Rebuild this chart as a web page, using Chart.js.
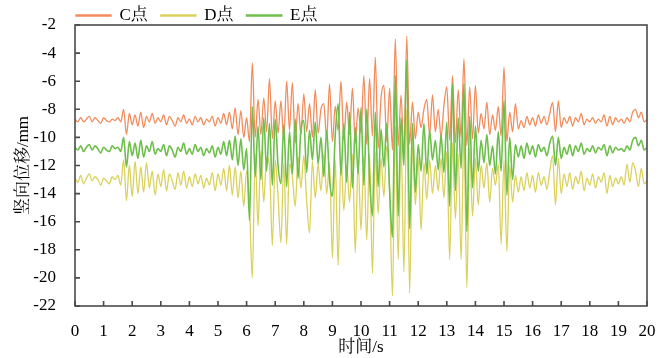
<!DOCTYPE html>
<html lang="zh">
<head>
<meta charset="utf-8">
<title>竖向位移</title>
<script src="https://cdn.jsdelivr.net/npm/chart.js@4.4.0/dist/chart.umd.min.js"></script>
<style>
  html, body { margin: 0; padding: 0; background: #fff; }
  #wrap { width: 667px; height: 358px; }
</style>
</head>
<body>
<div id="wrap"><canvas id="chart" width="667" height="358"></canvas></div>
<script>
// sampling step of the records, in seconds
const SAMPLE_STEP = 0.1;

const seriesNames = ['C点', 'D点', 'E点'];
const seriesColors = ['#F28C5C', '#DAD15C', '#6DBE4A'];

const xTicks = [0, 1, 2, 3, 4, 5, 6, 7, 8, 9, 10, 11, 12, 13, 14, 15, 16, 17, 18, 19, 20];
const yTicks = [-22, -20, -18, -16, -14, -12, -10, -8, -6, -4, -2];

// vertical displacement (mm), one row per second
const pointC = [
  -8.7, -8.9, -8.6, -8.9, -8.7, -8.5, -8.9, -8.6, -8.8, -9.0,
  -8.6, -8.8, -8.9, -8.7, -8.8, -8.6, -8.9, -8.0, -9.8, -8.3,
  -9.1, -8.4, -9.2, -8.2, -9.3, -8.5, -8.9, -8.3, -9.0, -8.6,
  -8.9, -8.4, -9.1, -8.5, -8.8, -9.2, -8.6, -8.9, -8.4, -9.0,
  -8.7, -9.1, -8.5, -8.9, -8.6, -9.1, -8.7, -8.9, -8.5, -9.2,
  -8.6, -9.0, -8.3, -9.1, -8.2, -9.4, -7.9, -9.8, -8.1, -10.0,
  -8.6, -10.3, -4.7, -10.0, -7.3, -9.8, -7.2, -9.6, -5.8, -10.1,
  -7.4, -9.7, -7.4, -10.2, -6.0, -9.5, -6.1, -10.4, -7.6, -9.8,
  -6.9, -9.6, -7.6, -10.0, -6.6, -9.7, -8.0, -7.6, -10.1, -6.2,
  -10.3, -7.8, -9.5, -6.0, -10.2, -7.5, -9.8, -6.5, -10.4, -7.9,
  -9.7, -5.6, -10.5, -5.8, -9.9, -4.3, -10.8, -7.2, -6.3, -10.3,
  -6.5, -10.9, -3.0, -10.6, -7.0, -11.2, -2.8, -10.5, -7.5, -10.1,
  -8.2, -9.3, -8.0, -7.3, -9.8, -7.0, -9.6, -8.0, -10.0, -7.7,
  -6.4, -10.2, -5.6, -10.4, -6.6, -10.0, -4.4, -10.6, -6.4, -10.1,
  -6.3, -9.7, -8.3, -9.4, -7.5, -9.8, -8.4, -9.5, -7.8, -9.9,
  -5.0, -10.3, -8.2, -9.6, -7.6, -9.4, -8.8, -9.3, -8.5, -9.1,
  -8.6, -9.2, -8.4, -9.0, -8.5, -9.1, -8.3, -7.5, -9.6, -7.4,
  -9.3, -8.6, -9.0, -8.5, -9.2, -8.6, -8.9, -8.3, -9.1, -8.7,
  -8.9, -8.6, -9.0, -8.7, -8.9, -8.4, -9.2, -8.5, -9.1, -8.6,
  -8.9, -8.7, -9.0, -8.6, -8.9, -8.2, -8.0, -8.6, -8.2, -8.9,
  -8.7
];

const pointD = [
  -12.9, -13.2, -12.7, -13.3, -12.9, -12.6, -13.1, -12.8, -13.0, -13.4,
  -12.9, -13.1, -13.3, -12.8, -13.0, -12.7, -13.4, -11.6, -14.5, -12.0,
  -14.2, -11.7, -14.0, -12.1, -13.9, -11.8, -13.6, -12.4, -14.1, -12.6,
  -13.5, -12.3, -13.8, -12.6, -13.1, -13.7, -12.5, -13.4, -12.4, -13.6,
  -12.8, -13.5, -12.6, -13.3, -12.7, -13.6, -12.9, -13.4, -12.5, -13.8,
  -12.6, -13.4, -12.2, -13.8, -12.0, -14.1, -12.1, -14.3, -12.4, -14.9,
  -12.4, -14.8, -20.0, -11.2, -16.3, -11.0, -14.6, -11.4, -12.0, -17.7,
  -11.6, -14.2, -17.5, -11.8, -17.6, -11.9, -12.8, -14.9, -11.4, -13.6,
  -11.3, -14.5, -16.8, -11.7, -14.3, -11.9, -13.8, -11.2, -14.0, -11.8,
  -18.6, -11.6, -19.1, -11.4, -15.2, -12.0, -14.6, -11.2, -18.2, -11.6,
  -16.6, -11.4, -17.3, -11.2, -19.7, -11.0, -15.4, -11.5, -14.2, -10.6,
  -13.6, -21.3, -9.2, -18.7, -10.0, -19.6, -8.0, -21.1, -10.6, -14.8,
  -11.4, -16.6, -11.8, -14.4, -11.6, -14.0, -12.0, -13.8, -11.5, -14.3,
  -11.0, -18.7, -10.4, -15.8, -11.2, -18.7, -9.6, -20.7, -10.8, -15.6,
  -11.5, -14.8, -12.0, -13.6, -11.8, -14.6, -12.2, -13.4, -11.9, -17.6,
  -11.6, -18.1, -12.0, -14.6, -12.7, -13.9, -12.8, -13.8, -12.5, -13.6,
  -12.7, -13.9, -12.5, -13.4, -12.8, -13.7, -12.4, -11.3, -14.8, -11.5,
  -14.0, -12.6, -13.5, -12.5, -13.7, -12.8, -13.3, -12.4, -13.8, -12.9,
  -13.4, -12.6, -13.6, -12.8, -13.2, -12.5, -14.0, -12.7, -13.5, -12.9,
  -13.3, -12.8, -13.4, -11.9, -13.2, -11.8, -12.4, -13.5, -12.2, -13.3,
  -13.1
];

const pointE = [
  -10.7, -10.9, -10.6, -11.0, -10.7, -10.5, -10.9, -10.6, -10.8, -11.1,
  -10.7, -10.9, -11.0, -10.6, -10.8, -10.7, -11.0, -10.0, -12.1, -10.3,
  -11.3, -10.4, -11.5, -10.2, -11.4, -10.6, -11.0, -10.3, -11.2, -10.8,
  -11.0, -10.5, -11.3, -10.6, -10.9, -11.4, -10.7, -11.0, -10.4, -11.2,
  -10.8, -11.2, -10.5, -11.0, -10.7, -11.3, -10.8, -11.1, -10.6, -11.4,
  -10.7, -11.2, -10.3, -11.3, -10.2, -11.6, -9.9, -12.0, -10.1, -12.3,
  -10.8, -15.9, -7.8, -12.8, -9.2, -13.0, -8.6, -12.4, -9.0, -13.4,
  -8.7, -12.0, -13.3, -9.1, -13.5, -9.6, -12.6, -8.7, -12.9, -9.4,
  -8.8, -12.5, -9.5, -11.6, -8.9, -11.9, -10.0, -12.8, -9.5, -13.0,
  -14.2, -9.8, -7.6, -12.7, -9.0, -13.2, -8.2, -13.6, -9.3, -12.6,
  -7.9, -13.4, -8.0, -12.9, -15.6, -8.2, -13.5, -9.4, -12.1, -9.0,
  -13.8, -17.1, -5.6, -15.6, -8.6, -12.0, -4.5, -16.5, -9.0, -13.9,
  -10.5, -12.4, -9.0, -12.6, -9.5, -11.6, -10.2, -12.3, -9.8, -12.5,
  -8.9, -14.9, -6.2, -13.8, -8.6, -12.2, -6.2, -16.7, -8.5, -13.6,
  -9.2, -12.4, -10.2, -11.8, -9.8, -12.0, -10.6, -12.6, -9.6, -12.4,
  -7.4, -14.1, -10.0, -13.0, -10.5, -11.4, -10.6, -11.5, -10.4, -11.2,
  -10.6, -11.4, -10.5, -11.0, -10.7, -11.3, -10.4, -9.9, -12.0, -10.0,
  -11.5, -10.7, -11.2, -10.5, -11.3, -10.6, -11.0, -10.4, -11.2, -10.8,
  -11.0, -10.6, -11.1, -10.7, -10.9, -10.5, -11.3, -10.6, -11.1, -10.7,
  -10.9, -10.8, -11.0, -10.6, -10.9, -10.2, -10.0, -10.6, -10.2, -10.9,
  -10.7
];

const FONT_FAMILY = "'Liberation Serif', 'Times New Roman', 'Noto Serif CJK SC', 'Noto Sans CJK SC', serif";
const FRAME_COLOR = '#4a4a4a';

/**
 * Pairs a list of samples with their time stamps.
 * @param {Array} values Samples taken every SAMPLE_STEP seconds.
 */
function toPoints(values) {
    return values.map((v, i) => ({ x: +(i * SAMPLE_STEP).toFixed(2), y: v }));
}

// box around the plot and the inward tick marks
const framePlugin = {
    id: 'frame',
    afterLayout(chart) {
        // move legend up and onto the left edge of the plot
        const legend = chart.legend;
        if (legend) {
            legend.top = -6;
            legend.left = chart.chartArea.left + 1 - legend.options.labels.padding;
        }
    },
    afterDatasetsDraw(chart) {
        const { ctx, chartArea: a, scales: { x, y } } = chart;
        ctx.save();
        ctx.strokeStyle = FRAME_COLOR;
        ctx.lineWidth = 1.6;
        ctx.strokeRect(a.left, a.top, a.right - a.left, a.bottom - a.top);
        ctx.beginPath();
        xTicks.forEach(v => {
            const px = x.getPixelForValue(v);
            ctx.moveTo(px, a.bottom);
            ctx.lineTo(px, a.bottom - 5);
        });
        yTicks.forEach(v => {
            const py = y.getPixelForValue(v);
            ctx.moveTo(a.left, py);
            ctx.lineTo(a.left + 5, py);
        });
        ctx.stroke();
        ctx.restore();
    }
};

function renderChart() {
    const ctx = document.getElementById('chart').getContext('2d');
    const allSeries = [pointC, pointD, pointE];
    const drawOrder = [3, 2, 1]; // E on top
    const widths = [1.3, 1.3, 1.6];

    new Chart(ctx, {
        type: 'line',
        data: {
            datasets: allSeries.map((values, i) => ({
                label: seriesNames[i],
                data: toPoints(values),
                borderColor: seriesColors[i],
                backgroundColor: seriesColors[i],
                borderWidth: widths[i],
                pointRadius: 0,
                fill: false,
                cubicInterpolationMode: 'monotone',
                order: drawOrder[i]
            }))
        },
        options: {
            responsive: false,
            animation: false,
            layout: { padding: { left: 0, right: 20, top: 0, bottom: 0 } },
            scales: {
                x: {
                    type: 'linear',
                    min: 0,
                    max: 20,
                    afterBuildTicks: scale => { scale.ticks = xTicks.map(v => ({ value: v })); },
                    afterFit: scale => { scale.height = 52; },
                    grid: { display: false },
                    border: { display: false },
                    ticks: {
                        autoSkip: false,
                        maxRotation: 0,
                        padding: 7,
                        color: '#000',
                        font: { family: FONT_FAMILY, size: 17 }
                    },
                    title: {
                        display: true,
                        text: '时间/s',
                        color: '#000',
                        padding: { top: 0, bottom: 0 },
                        font: { family: FONT_FAMILY, size: 17 }
                    }
                },
                y: {
                    min: -22,
                    max: -2,
                    afterBuildTicks: scale => { scale.ticks = yTicks.map(v => ({ value: v })); },
                    afterFit: scale => { scale.width = 75; },
                    grid: { display: false },
                    border: { display: false },
                    ticks: {
                        padding: 11,
                        color: '#000',
                        font: { family: FONT_FAMILY, size: 17 }
                    },
                    title: {
                        display: true,
                        text: '竖向位移/mm',
                        color: '#000',
                        padding: { top: 13, bottom: 0 },
                        font: { family: FONT_FAMILY, size: 17 }
                    }
                }
            },
            plugins: {
                legend: {
                    display: true,
                    position: 'top',
                    align: 'start',
                    maxHeight: 25,
                    labels: {
                        boxWidth: 35,
                        boxHeight: 1,
                        padding: 13,
                        color: '#000',
                        font: { family: FONT_FAMILY, size: 17 },
                        sort: (a, b) => a.datasetIndex - b.datasetIndex
                    }
                },
                tooltip: { enabled: false }
            }
        },
        plugins: [framePlugin]
    });
}

renderChart();
</script>
</body>
</html>
